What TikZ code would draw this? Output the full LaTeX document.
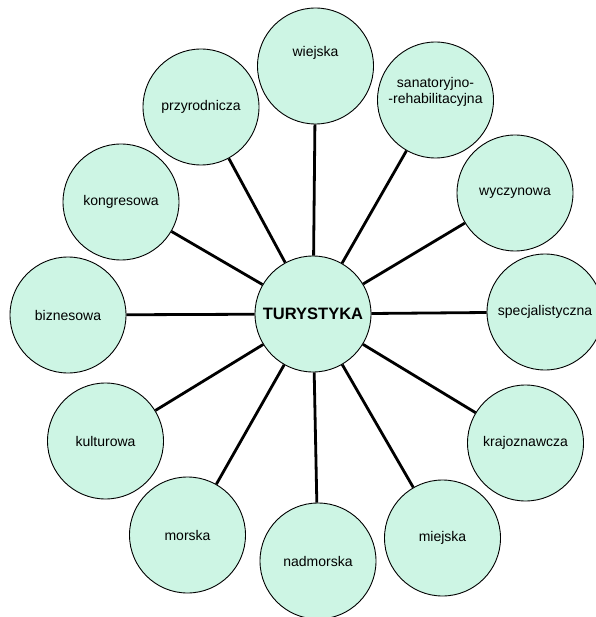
\documentclass[tikz,border=0pt]{standalone}
\usepackage{fontspec}
\setmainfont{Liberation Sans}
\definecolor{mint}{RGB}{205,245,228}
\begin{document}
\begin{tikzpicture}[x=1pt,y=-1pt,
  bubble/.style={circle,draw=black,line width=0.9pt,fill=mint,minimum size=116pt,inner sep=0pt,align=center,font=\fontsize{14}{16}\selectfont},
  hub/.style={bubble,font=\fontsize{16.5}{19}\selectfont\bfseries},
  spoke/.style={line width=2.8pt}]
\useasboundingbox (0,0) rectangle (595,617);
\node[hub] (c) at (313,314) {TURYSTYKA};
\node[bubble] (wiejska) at (315.5,66) {wiejska\\[14pt]};
\node[bubble] (sana) at (435.5,100) {sanatoryjno-\\-rehabilitacyjna\\[4pt]};
\node[bubble] (wycz) at (515,193) {wyczynowa};
\node[bubble] (spec) at (545,312) {specjalistyczna};
\node[bubble] (kraj) at (525.5,443) {krajoznawcza};
\node[bubble] (miej) at (442.5,538) {miejska};
\node[bubble] (nadm) at (318,561) {nadmorska};
\node[bubble] (mors) at (187.5,535) {morska};
\node[bubble] (kult) at (105.5,441) {kulturowa};
\node[bubble] (bizn) at (68,315) {biznesowa};
\node[bubble] (kong) at (121,202) {kongresowa};
\node[bubble] (przy) at (201,107) {przyrodnicza};
\foreach \n in {wiejska,sana,wycz,spec,kraj,miej,nadm,mors,kult,bizn,kong,przy}
  \draw[spoke] (c) -- (\n);
\end{tikzpicture}
\end{document}
